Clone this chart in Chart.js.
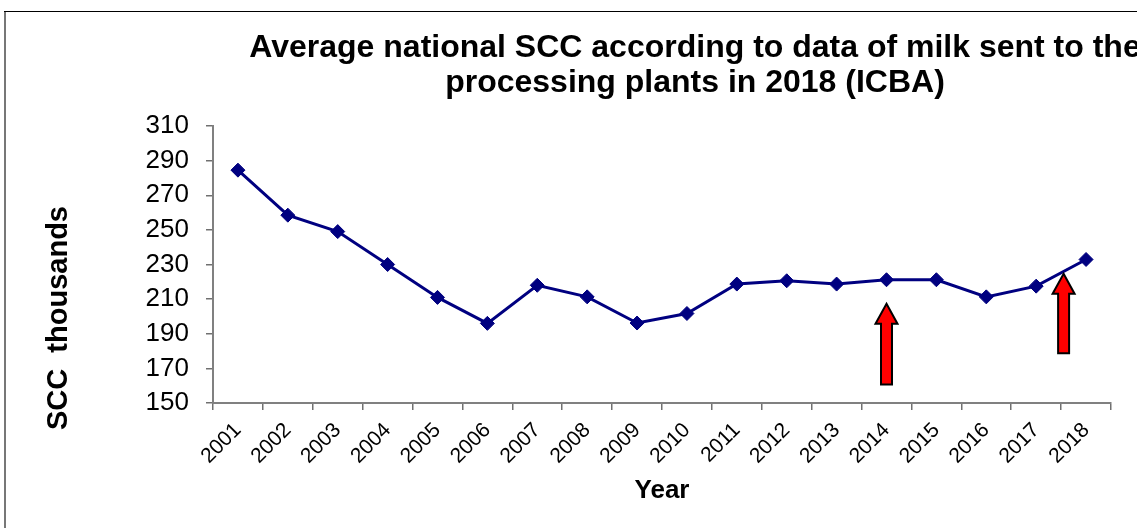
<!DOCTYPE html>
<html>
<head>
<meta charset="utf-8">
<script src="https://cdn.jsdelivr.net/npm/chart.js@4/dist/chart.umd.min.js"></script>
<style>
  html, body { margin: 0; padding: 0; background: #fff; overflow: hidden; }
  #wrap { position: relative; width: 1137px; height: 528px; }
  canvas { display: block; }
</style>
</head>
<body>
<div id="wrap"><canvas id="chart" width="1137" height="528"></canvas></div>
<script>
// Average national somatic cell count (thousands) per year
const years = ['2001', '2002', '2003', '2004', '2005', '2006', '2007', '2008', '2009',
               '2010', '2011', '2012', '2013', '2014', '2015', '2016', '2017', '2018'];
const sccValues = [284.5, 258.5, 249, 230, 211, 196, 218, 211.3, 196.2,
                   201.7, 218.7, 220.6, 218.7, 221.2, 221.2, 211.3, 217.5, 232.9];

const yMin = 150;
const yMax = 310;
const yStep = 20;

const titleLines = ['Average national SCC according to data of milk sent to the',
                    'processing plants in 2018 (ICBA)'];
const xAxisTitle = 'Year';
const yAxisTitle = 'SCC  thousands';

// Highlight arrows: category index, and base/tip in SCC units
const arrowAt = [13, 16.55];
const arrowFrom = [160.7, 178.8];
const arrowTo = [207.3, 224.6];

const FONT = 'Arial, "Liberation Sans", Helvetica, sans-serif';
Chart.defaults.font.family = FONT;
Chart.defaults.color = '#000';

const decorations = {
  id: 'decorations',
  beforeDraw(chart) {
    const ctx = chart.ctx;
    ctx.save();
    ctx.fillStyle = '#fff';
    ctx.fillRect(0, 0, chart.width, chart.height);
    // outer frame (open to the right and bottom)
    ctx.fillStyle = '#777';
    ctx.fillRect(4, 11, 2, chart.height - 11);
    ctx.fillStyle = '#000';
    ctx.fillRect(4, 11, chart.width - 4, 1);
    ctx.restore();
  },
  afterDraw(chart) {
    const ctx = chart.ctx;
    const xs = chart.scales.x, ys = chart.scales.y;
    ctx.save();
    // chart title
    ctx.fillStyle = '#000';
    ctx.font = 'bold 32px ' + FONT;
    ctx.textAlign = 'center';
    ctx.textBaseline = 'alphabetic';
    ctx.fillText(titleLines[0], 695, 57);
    ctx.fillText(titleLines[1], 695, 92);
    // vertical axis title
    ctx.save();
    ctx.translate(59, 318);
    ctx.rotate(-Math.PI / 2);
    ctx.font = 'bold 29px ' + FONT;
    ctx.textBaseline = 'middle';
    ctx.fillText(yAxisTitle, 0, 0);
    ctx.restore();
    // red arrows
    for (let i = 0; i < arrowAt.length; i++) {
      const x = xs.getPixelForValue(arrowAt[i]);
      const tip = ys.getPixelForValue(arrowTo[i]);
      const base = ys.getPixelForValue(arrowFrom[i]);
      const headLen = 20, headHalf = 11, shaftHalf = 5.5;
      ctx.beginPath();
      ctx.moveTo(x, tip);
      ctx.lineTo(x + headHalf, tip + headLen);
      ctx.lineTo(x + shaftHalf, tip + headLen);
      ctx.lineTo(x + shaftHalf, base);
      ctx.lineTo(x - shaftHalf, base);
      ctx.lineTo(x - shaftHalf, tip + headLen);
      ctx.lineTo(x - headHalf, tip + headLen);
      ctx.closePath();
      ctx.fillStyle = '#ff0000';
      ctx.fill();
      ctx.lineWidth = 2;
      ctx.lineJoin = 'miter';
      ctx.strokeStyle = '#000';
      ctx.stroke();
    }
    ctx.restore();
  }
};

new Chart(document.getElementById('chart'), {
  type: 'line',
  data: {
    labels: years,
    datasets: [{
      label: 'SCC',
      data: sccValues,
      borderColor: '#000080',
      backgroundColor: '#000080',
      borderWidth: 3,
      tension: 0,
      pointStyle: 'rectRot',
      pointRadius: 7,
      pointHoverRadius: 7,
      pointBorderWidth: 1,
      pointBackgroundColor: '#000080',
      pointBorderColor: '#000080'
    }]
  },
  options: {
    responsive: false,
    animation: false,
    devicePixelRatio: 1,
    layout: { padding: { top: 126, right: 26, bottom: 0, left: 0 } },
    plugins: {
      legend: { display: false },
      title: { display: false },
      tooltip: { enabled: false }
    },
    scales: {
      x: {
        type: 'category',
        offset: true,
        grid: { display: true, offset: true, drawOnChartArea: false, drawTicks: true,
                tickLength: 7, color: '#707070', lineWidth: 1.5 },
        border: { display: true, color: '#808080', width: 2 },
        ticks: { autoSkip: false, minRotation: 45, maxRotation: 45, padding: 8,
                 color: '#000', font: { size: 21 } },
        title: { display: true, text: xAxisTitle, color: '#000',
                 font: { size: 26, weight: 'bold' }, padding: { top: 0, bottom: 22 } },
        afterFit(scale) { scale.height = 125; }
      },
      y: {
        min: yMin,
        max: yMax,
        grid: { display: true, drawOnChartArea: false, drawTicks: true,
                tickLength: 7, color: '#707070', lineWidth: 1.5 },
        border: { display: true, color: '#808080', width: 2 },
        ticks: { stepSize: yStep, padding: 17, color: '#000', font: { size: 26 } },
        afterFit(scale) { scale.width = 213; }
      }
    }
  },
  plugins: [decorations]
});
</script>
</body>
</html>
